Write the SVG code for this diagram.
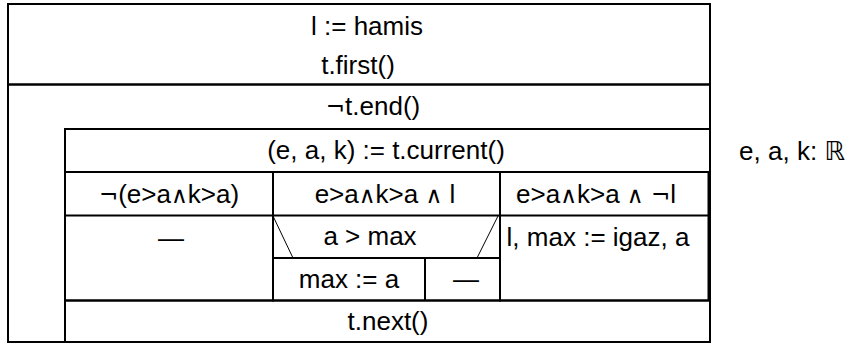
<svg xmlns="http://www.w3.org/2000/svg" width="851" height="344" viewBox="0 0 851 344">
<style>
.b{fill:none;stroke:#000;stroke-width:2}
.d{fill:none;stroke:#000;stroke-width:1}
text{font-family:"Liberation Sans",Arial,"DejaVu Sans",sans-serif;font-size:26px;fill:#000;text-anchor:middle}
.m{font-family:"DejaVu Sans",sans-serif;font-size:23px}
</style>
<rect width="851" height="344" fill="#fff"/>
<g id="init">
  <rect class="b" x="8" y="4" width="702" height="80.5"/>
  <text x="367" y="35">l := hamis</text>
  <text x="358" y="74">t.first()</text>
</g>
<g id="loop">
  <rect class="b" x="8" y="84.5" width="702" height="257.5"/>
  <text x="373" y="115"><tspan class="m">¬</tspan>t.end()</text>
</g>
<g id="current">
  <rect class="b" x="65" y="129" width="645" height="43"/>
  <text x="386" y="159">(e, a, k) := t.current()</text>
</g>
<g id="branch1">
  <rect class="b" x="65" y="172" width="208" height="128.5"/>
  <line class="b" x1="65" y1="215.5" x2="273" y2="215.5"/>
  <text x="169" y="202.5"><tspan class="m">¬</tspan>(e&gt;a<tspan class="m">∧</tspan>k&gt;a)</text>
  <text x="171" y="246.5">—</text>
</g>
<g id="branch2">
  <rect class="b" x="273" y="172" width="227" height="128.5"/>
  <line class="b" x1="273" y1="215.5" x2="500" y2="215.5"/>
  <text x="385" y="202.5">e&gt;a<tspan class="m">∧</tspan>k&gt;a <tspan class="m">∧</tspan> l</text>
  <g id="if">
    <line class="b" x1="273" y1="258" x2="500" y2="258"/>
    <line class="d" x1="273" y1="216" x2="293" y2="258"/>
    <line class="d" x1="498" y1="216" x2="477" y2="258"/>
    <text x="370" y="245">a &gt; max</text>
  </g>
  <g id="then">
    <line class="b" x1="425" y1="258" x2="425" y2="300.5"/>
    <text x="349" y="288">max := a</text>
  </g>
  <g id="else">
    <text x="466" y="287.5">—</text>
  </g>
</g>
<g id="branch3">
  <rect class="b" x="500" y="172" width="208.5" height="128.5"/>
  <line class="b" x1="500" y1="215.5" x2="708.5" y2="215.5"/>
  <text x="596" y="202.5">e&gt;a<tspan class="m">∧</tspan>k&gt;a <tspan class="m">∧</tspan> <tspan class="m">¬</tspan>l</text>
  <text x="598" y="246">l, max := igaz, a</text>
</g>
<g id="next">
  <rect class="b" x="65" y="300.5" width="645" height="41.5"/>
  <text x="388" y="330">t.next()</text>
</g>
<g id="decl">
  <text x="792" y="160">e, a, k: ℝ</text>
</g>
<g id="connectors"/>
</svg>
